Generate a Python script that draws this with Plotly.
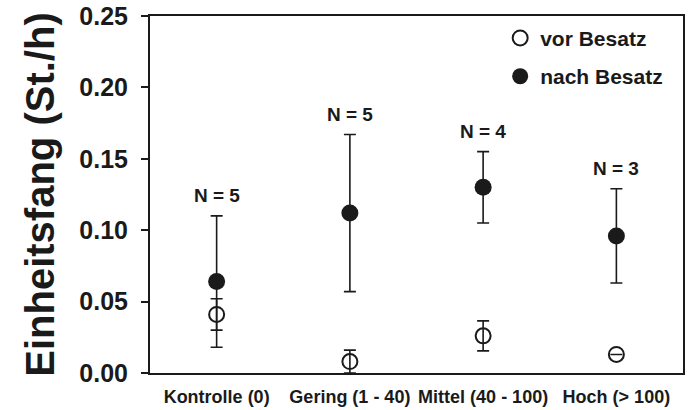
import plotly.graph_objects as go

categories = ["Kontrolle (0)", "Gering (1 - 40)", "Mittel (40 - 100)", "Hoch (> 100)"]
vor_mean = [0.041, 0.008, 0.026, 0.013]
vor_err = [0.011, 0.008, 0.0105, 0.0]
nach_mean = [0.064, 0.112, 0.130, 0.096]
nach_err = [0.046, 0.055, 0.025, 0.033]
n_values = [5, 5, 4, 3]
y_ticks = [0.00, 0.05, 0.10, 0.15, 0.20, 0.25]

xpos = list(range(len(categories)))
FONT = "Liberation Sans, Arial, sans-serif"
INK = "#1a1a1a"

fig = go.Figure()
fig.add_trace(go.Scatter(
    x=xpos, y=vor_mean, mode="markers", name="vor Besatz",
    legendgroup="a",
    marker=dict(symbol="circle-open", size=15, color=INK, line=dict(width=2, color=INK)),
    error_y=dict(type="data", array=vor_err, visible=True, color=INK, thickness=1.6, width=6),
))
fig.add_trace(go.Scatter(
    x=xpos, y=nach_mean, mode="markers", name="nach Besatz",
    legendgroup="b",
    marker=dict(symbol="circle", size=17, color=INK, line=dict(width=0)),
    error_y=dict(type="data", array=nach_err, visible=True, color=INK, thickness=1.6, width=6),
))

for i, n in enumerate(n_values):
    fig.add_annotation(
        x=xpos[i], y=nach_mean[i] + nach_err[i], text=f"N = {n}",
        showarrow=False, yanchor="middle", yshift=20,
        font=dict(family=FONT, size=19, color=INK, weight="bold"),
    )

fig.update_layout(
    width=688, height=410,
    margin=dict(l=150, r=5, t=16, b=37, autoexpand=False),
    paper_bgcolor="white", plot_bgcolor="white",
    showlegend=True,
    legend=dict(
        x=0.657, y=0.995, xanchor="left", yanchor="top",
        traceorder="grouped", tracegroupgap=8,
        font=dict(family=FONT, size=21, color=INK, weight="bold"),
        bgcolor="rgba(0,0,0,0)",
    ),
    font=dict(family=FONT, color=INK),
)
fig.update_xaxes(
    range=[-0.5, 3.5], tickvals=xpos, ticktext=categories,
    showline=True, linewidth=2, linecolor=INK, mirror=True,
    showgrid=False, zeroline=False, ticks="", automargin=False, tickangle=0,
    ticklabelstandoff=6, ticklabeloverflow="allow",
    tickfont=dict(family=FONT, size=18, color=INK, weight="bold"),
)
fig.update_yaxes(
    range=[0, 0.25], tickvals=y_ticks, tickformat=".2f",
    showline=True, linewidth=2, linecolor=INK, mirror=True,
    showgrid=False, zeroline=False, ticks="outside", ticklen=7, tickwidth=2, tickcolor=INK,
    ticklabelstandoff=8, automargin=False, ticklabeloverflow="allow",
    tickfont=dict(family=FONT, size=25, color=INK, weight="bold"),
    title=dict(text="Einheitsfang (St./h)", standoff=12,
               font=dict(family=FONT, size=40, color=INK, weight="bold")),
)

fig.write_html("out.html", config={"displayModeBar": False},
               post_script="document.body.style.margin='0';")
